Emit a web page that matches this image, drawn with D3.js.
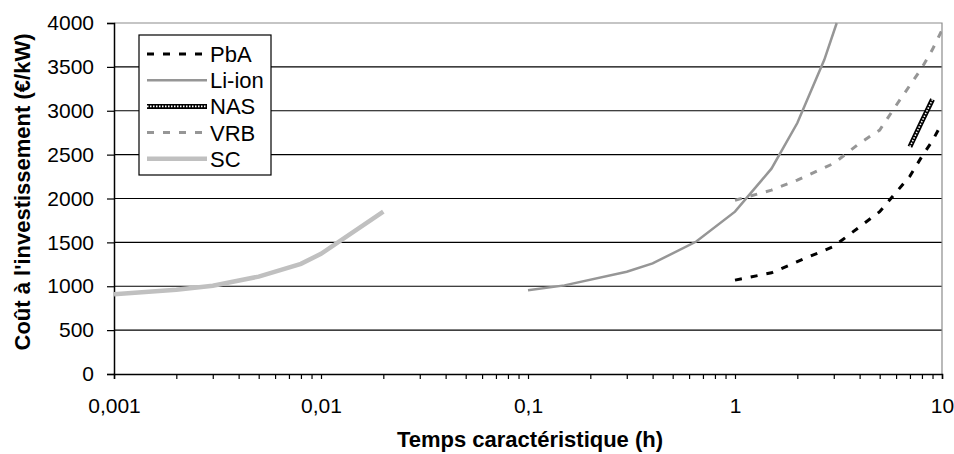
<!DOCTYPE html>
<html>
<head>
<meta charset="utf-8">
<script src="https://cdn.jsdelivr.net/npm/d3@7"></script>
<style>
  body { margin: 0; background: #fff; }
  text { font-family: "Liberation Sans", Arial, sans-serif; fill: #000; }
</style>
</head>
<body>
<div id="chart"></div>
<script>
// values (x in hours, y in €/kW)
var seriesNames = ["PbA", "Li-ion", "NAS", "VRB", "SC"];
var pbaX = [1, 1.5, 2, 3, 4, 5, 6, 7, 8, 9, 10];
var pbaY = [1070, 1153, 1280, 1455, 1677, 1850, 2070, 2255, 2480, 2660, 2860];
var lionX = [0.1, 0.15, 0.3, 0.4, 0.65, 1, 1.5, 2, 2.7, 3.1];
var lionY = [955, 1010, 1165, 1260, 1510, 1850, 2340, 2860, 3580, 4000];
var nasX = [7, 8, 9];
var nasY = [2590, 2880, 3130];
var vrbX = [1, 1.5, 2, 3, 4, 5, 6, 7, 8, 9, 10];
var vrbY = [1980, 2095, 2210, 2400, 2630, 2780, 3060, 3290, 3490, 3700, 3920];
var scX = [0.001, 0.002, 0.003, 0.005, 0.008, 0.01, 0.02];
var scY = [910, 960, 1005, 1110, 1255, 1370, 1850];

var xTicks = [0.001, 0.01, 0.1, 1, 10];
var xTickLabels = ["0,001", "0,01", "0,1", "1", "10"];
var yTicks = [0, 500, 1000, 1500, 2000, 2500, 3000, 3500, 4000];

var xTitle = "Temps caractéristique (h)";
var yTitle = "Coût à l'investissement (€/kW)";

var W = 954, H = 454;
var margin = { top: 23, right: 12, bottom: 80, left: 114 };
var width = W - margin.left - margin.right;
var height = H - margin.top - margin.bottom;

var svg = d3.select("#chart").append("svg")
    .attr("width", W).attr("height", H);
var g = svg.append("g")
    .attr("transform", "translate(" + margin.left + "," + margin.top + ")");

var x = d3.scaleLog().domain([0.001, 10]).range([0, width]);
var y = d3.scaleLinear().domain([0, 4000]).range([height, 0]);

// minor ticks 2..9 of every decade
var minorTicks = [];
xTicks.slice(0, -1).forEach(function(d) {
    for (var k = 2; k <= 9; k++) minorTicks.push(d * k);
});

// gridlines
g.selectAll(".grid").data(yTicks.slice(1, -1)).enter().append("line")
    .attr("x1", 0).attr("x2", width)
    .attr("y1", function(d) { return y(d); })
    .attr("y2", function(d) { return y(d); })
    .attr("stroke", "#000").attr("stroke-width", 1.2);

// top and right border
g.append("path")
    .attr("d", "M0," + y(4000) + "H" + width + "V" + height)
    .attr("fill", "none").attr("stroke", "#8c8c8c").attr("stroke-width", 1.2);

// x axis
var xAxis = g.append("g")
    .attr("transform", "translate(0," + height + ")")
    .call(d3.axisBottom(x).tickValues(xTicks.concat(minorTicks)).tickSize(5).tickPadding(19)
        .tickFormat(function(d) {
            var i = xTicks.indexOf(d);
            return i >= 0 ? xTickLabels[i] : "";
        }));
xAxis.select(".domain").attr("stroke", "#000").attr("stroke-width", 1.5);
xAxis.selectAll(".tick line").attr("stroke", "#000").attr("stroke-width", 1.2);
xAxis.selectAll("text").style("font-size", "21px");

// y axis
var yAxis = g.append("g")
    .call(d3.axisLeft(y).tickValues(yTicks).tickSize(7).tickPadding(13).tickFormat(d3.format("d")));
yAxis.select(".domain").attr("stroke", "#000").attr("stroke-width", 1.5);
yAxis.selectAll(".tick line").attr("stroke", "#000").attr("stroke-width", 1.2);
yAxis.selectAll("text").style("font-size", "21px");

// axis titles
svg.append("text")
    .attr("x", 530).attr("y", 447)
    .attr("text-anchor", "middle")
    .style("font-size", "22px").style("font-weight", "bold")
    .text(xTitle);
svg.append("text")
    .attr("transform", "translate(30,192) rotate(-90)")
    .attr("text-anchor", "middle")
    .style("font-size", "22px").style("font-weight", "bold")
    .text(yTitle);

// series
g.append("clipPath").attr("id", "plot")
    .append("rect").attr("x", 0).attr("y", -2).attr("width", width).attr("height", height + 2);

var line = d3.line()
    .x(function(d) { return x(d[0]); })
    .y(function(d) { return y(d[1]); });

var styles = [
    { stroke: "#000", width: 3, dash: "7,9" },
    { stroke: "#969696", width: 2.5, dash: null },
    { stroke: "#000", width: 5, dash: null, checker: true },
    { stroke: "#969696", width: 3, dash: "7,9" },
    { stroke: "#c0c0c0", width: 4.5, dash: null }
];
var series = [
    d3.zip(pbaX, pbaY),
    d3.zip(lionX, lionY),
    d3.zip(nasX, nasY),
    d3.zip(vrbX, vrbY),
    d3.zip(scX, scY)
];

var plot = g.append("g").attr("clip-path", "url(#plot)");
// draw order: SC, Li-ion, VRB, PbA, NAS
[4, 1, 3, 0, 2].forEach(function(i) {
    var s = styles[i];
    plot.append("path").datum(series[i])
        .attr("d", line)
        .attr("fill", "none")
        .attr("stroke", s.stroke)
        .attr("stroke-width", s.width)
        .attr("stroke-dasharray", s.dash);
    if (s.checker) {
        plot.append("path").datum(series[i])
            .attr("d", line)
            .attr("fill", "none")
            .attr("stroke", "#fff")
            .attr("stroke-width", 1.6)
            .attr("stroke-dasharray", "1.5,1.5");
    }
});

// legend
var lg = svg.append("g").attr("transform", "translate(139,35)");
lg.append("rect").attr("width", 132).attr("height", 140)
    .attr("fill", "#fff").attr("stroke", "#000").attr("stroke-width", 1.2);
seriesNames.forEach(function(name, i) {
    var s = styles[i];
    var yy = 19 + i * 26.2;
    lg.append("line").attr("x1", 8).attr("x2", 68).attr("y1", yy).attr("y2", yy)
        .attr("stroke", s.stroke).attr("stroke-width", s.width)
        .attr("stroke-dasharray", s.dash);
    if (s.checker) {
        lg.append("line").attr("x1", 8).attr("x2", 68).attr("y1", yy).attr("y2", yy)
            .attr("stroke", "#fff").attr("stroke-width", 1.6)
            .attr("stroke-dasharray", "1.5,1.5");
    }
    lg.append("text").attr("x", 71).attr("y", yy + 8)
        .style("font-size", "22px")
        .text(name);
});
</script>
</body>
</html>
